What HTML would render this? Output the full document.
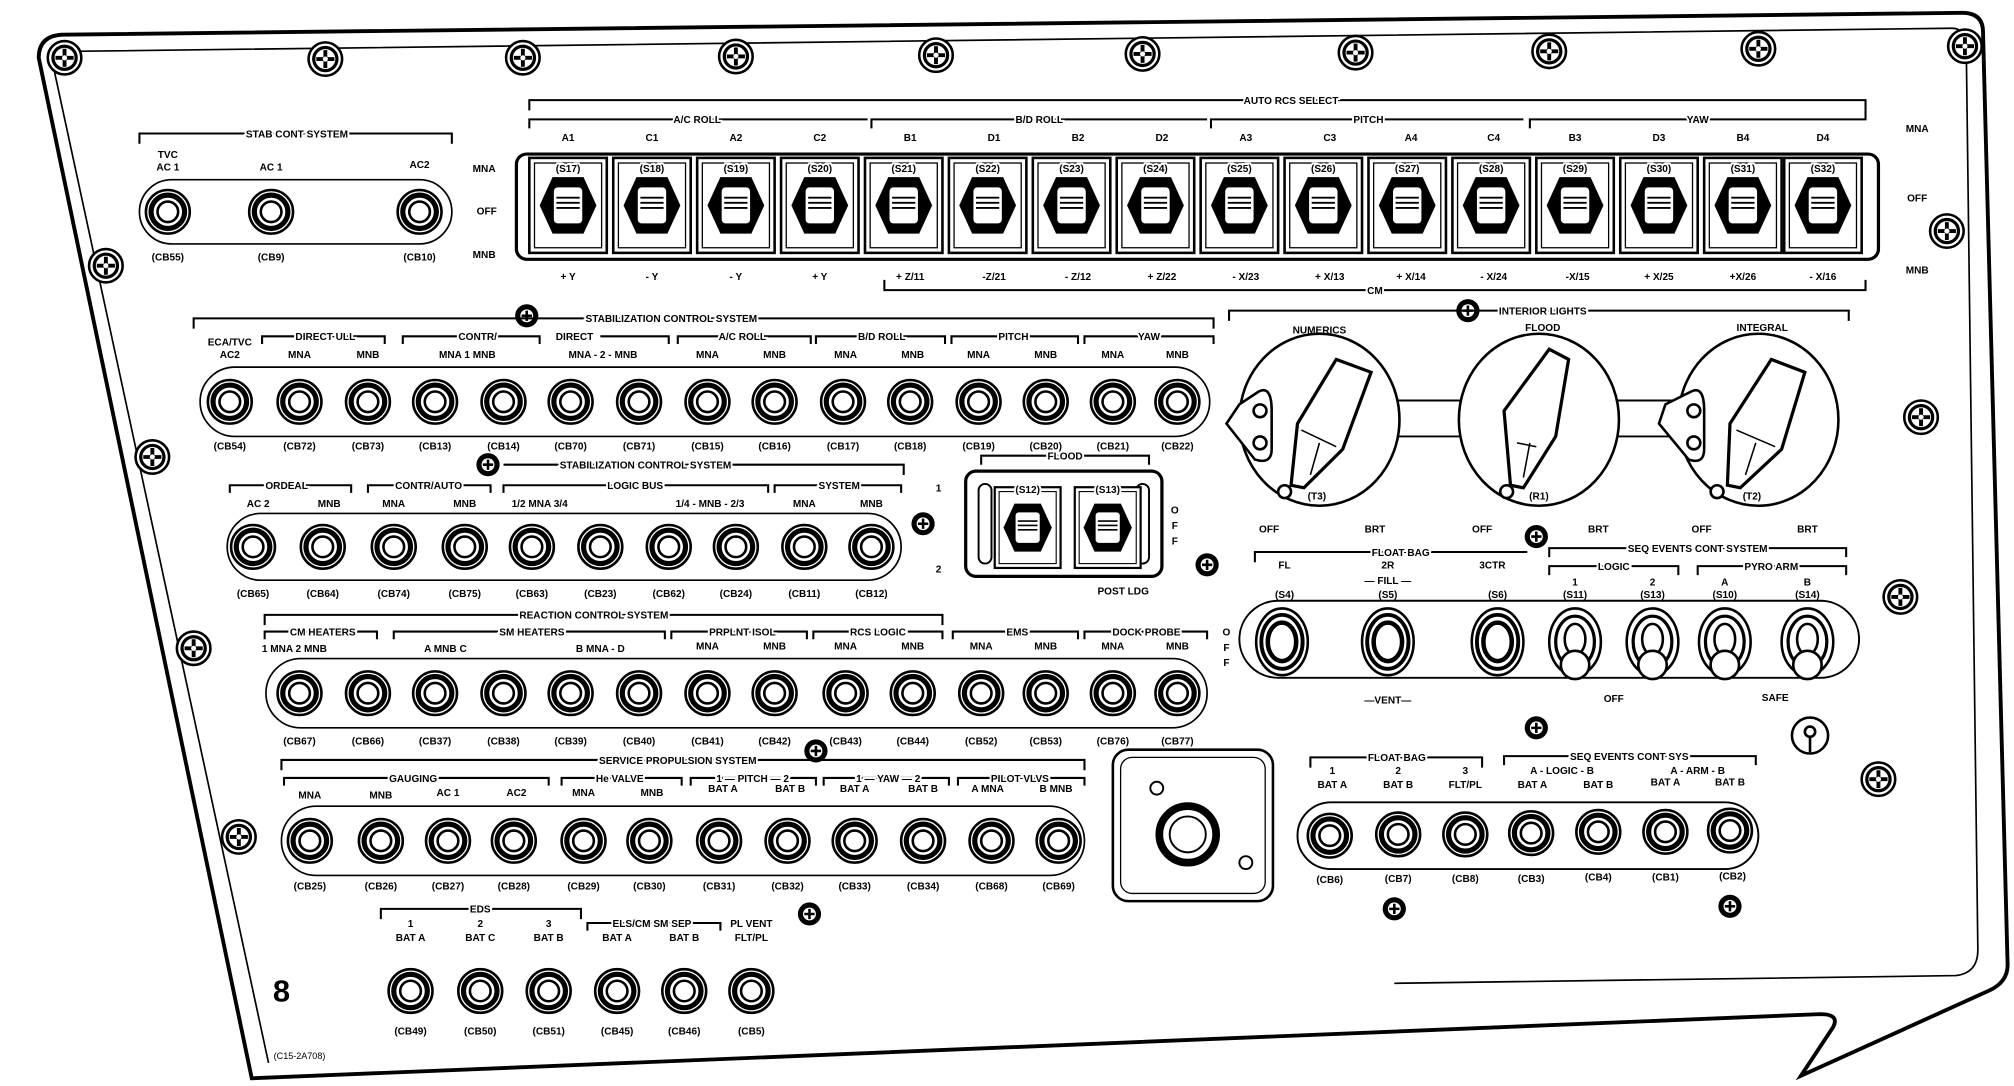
<!DOCTYPE html>
<html><head><meta charset="utf-8"><style>
html,body{margin:0;padding:0;background:#fff}
svg{display:block}
text{font-family:"Liberation Sans",sans-serif;font-weight:bold;font-size:7.8px;fill:#000;text-anchor:middle}
.h{stroke:#fff;stroke-width:3;paint-order:stroke}
.k{fill:none;stroke:#000;stroke-width:1.6}
</style></head><body>
<svg width="2014" height="1086" viewBox="0 0 1560 846" preserveAspectRatio="none">
<defs>
<g id="b"><circle r="17" fill="#fff" stroke="#000" stroke-width="2"/><circle r="13" fill="none" stroke="#000" stroke-width="4"/><circle r="8" fill="#fff" stroke="#000" stroke-width="2"/></g>
<g id="s"><circle r="13" fill="#fff" stroke="#000" stroke-width="2"/><circle r="9" fill="#fff" stroke="#000" stroke-width="2.5"/><path d="M0 -7V7M-7 0H7" stroke="#000" stroke-width="3"/><circle r="2" fill="#fff"/></g>
<g id="ss"><circle r="9" fill="#000"/><circle r="5" fill="#fff"/><path d="M0 -4V4M-4 0H4" stroke="#000" stroke-width="2"/></g>
<g id="r"><rect x="-30" y="-37" width="60" height="74" fill="#fff" stroke="#000" stroke-width="2"/><rect x="-26" y="-33" width="52" height="66" fill="none" stroke="#000" stroke-width="1"/><path d="M-12 -22H12L22 0L12 22H-12L-22 0Z" fill="#000"/><rect x="-12" y="-15" width="24" height="30" rx="4" fill="#fff" stroke="#000" stroke-width="2"/><path d="M-9 -6H9M-9 -2H9M-9 2H9" stroke="#000" stroke-width="1.5"/></g>
<g id="t"><ellipse rx="20" ry="26" fill="#fff" stroke="#000" stroke-width="2"/><ellipse rx="15" ry="20" fill="none" stroke="#000" stroke-width="2.5"/><ellipse cy="-2" rx="8" ry="12" fill="#fff" stroke="#000" stroke-width="2"/><circle cy="18" r="11" fill="#fff" stroke="#000" stroke-width="2"/></g>
<g id="p"><ellipse rx="20" ry="26" fill="#fff" stroke="#000" stroke-width="2"/><ellipse rx="16" ry="21" fill="none" stroke="#000" stroke-width="3"/><ellipse rx="11" ry="15" fill="#fff" stroke="#000" stroke-width="3.5"/></g>
</defs>

<path d="M30 45 Q30 28 48 27 L1520 10 Q1536 10 1536 25 L1555 750 Q1556 765 1540 772 L1395 838 L1420 800 Q1425 790 1410 790 L195 840 Z" fill="#fff" stroke="#000" stroke-width="3"/>
<path d="M42 55 Q42 40 56 40 L1512 22 Q1522 22 1523 35 L1532 740 Q1532 758 1515 760 L1080 766" fill="none" stroke="#000" stroke-width="1.3"/>
<path d="M42 55 L208 828" fill="none" stroke="#000" stroke-width="1.3"/>

<use href="#s" x="50" y="45"/><use href="#s" x="252" y="46"/><use href="#s" x="405" y="45"/><use href="#s" x="570" y="44"/><use href="#s" x="725" y="43"/><use href="#s" x="885" y="42"/><use href="#s" x="1050" y="41"/><use href="#s" x="1200" y="40"/><use href="#s" x="1362" y="38"/><use href="#s" x="1522" y="36"/>
<use href="#s" x="82" y="207"/><use href="#s" x="118" y="356"/><use href="#s" x="150" y="505"/><use href="#s" x="185" y="652"/>
<use href="#s" x="1508" y="180"/><use href="#s" x="1488" y="325"/><use href="#s" x="1472" y="465"/><use href="#s" x="1455" y="607"/>
<use href="#ss" x="408" y="246"/><use href="#ss" x="378" y="362"/><use href="#ss" x="715" y="408"/><use href="#ss" x="935" y="440"/><use href="#ss" x="632" y="585"/><use href="#ss" x="627" y="712"/><use href="#ss" x="1137" y="242"/><use href="#ss" x="1190" y="418"/><use href="#ss" x="1190" y="567"/><use href="#ss" x="1080" y="708"/><use href="#ss" x="1340" y="706"/>
<circle cx="1402" cy="573" r="14" fill="#fff" stroke="#000" stroke-width="2"/><circle cx="1402" cy="570" r="4" fill="none" stroke="#000" stroke-width="2"/><path d="M1402 574V586" stroke="#000" stroke-width="2"/>

<path class="k" d="M108 112V104H350V112"/><text class="h" x="230" y="107">STAB CONT SYSTEM</text>
<text x="130" y="123">TVC</text><text x="130" y="133">AC 1</text><text x="210" y="133">AC 1</text><text x="325" y="131">AC2</text>
<rect x="108" y="140" width="242" height="50" rx="25" fill="none" stroke="#000" stroke-width="1.3"/>
<use href="#b" x="130" y="165"/><use href="#b" x="210" y="165"/><use href="#b" x="325" y="165"/>
<text x="130" y="203">(CB55)</text><text x="210" y="203">(CB9)</text><text x="325" y="203">(CB10)</text>
<text x="375" y="134">MNA</text><text x="377" y="167">OFF</text><text x="375" y="201">MNB</text>
<text x="1485" y="103">MNA</text><text x="1485" y="157">OFF</text><text x="1485" y="213">MNB</text>

<path class="k" d="M410 86V78H1445V86"/><text class="h" x="1000" y="81">AUTO RCS SELECT</text>
<path class="k" d="M410 100V93H672"/><text class="h" x="540" y="96">A/C ROLL</text>
<path class="k" d="M675 100V93H935"/><text class="h" x="805" y="96">B/D ROLL</text>
<path class="k" d="M938 100V93H1180"/><text class="h" x="1060" y="96">PITCH</text>
<path class="k" d="M1185 100V93H1445V86"/><text class="h" x="1315" y="96">YAW</text>
<text x="440" y="110">A1</text><text x="505" y="110">C1</text><text x="570" y="110">A2</text><text x="635" y="110">C2</text><text x="705" y="110">B1</text><text x="770" y="110">D1</text><text x="835" y="110">B2</text><text x="900" y="110">D2</text><text x="965" y="110">A3</text><text x="1030" y="110">C3</text><text x="1093" y="110">A4</text><text x="1157" y="110">C4</text><text x="1220" y="110">B3</text><text x="1285" y="110">D3</text><text x="1350" y="110">B4</text><text x="1412" y="110">D4</text>
<rect x="400" y="120" width="1055" height="82" rx="8" fill="#fff" stroke="#000" stroke-width="2.5"/>
<use href="#r" x="440" y="160"/><use href="#r" x="505" y="160"/><use href="#r" x="570" y="160"/><use href="#r" x="635" y="160"/><use href="#r" x="700" y="160"/><use href="#r" x="765" y="160"/><use href="#r" x="830" y="160"/><use href="#r" x="895" y="160"/><use href="#r" x="960" y="160"/><use href="#r" x="1025" y="160"/><use href="#r" x="1090" y="160"/><use href="#r" x="1155" y="160"/><use href="#r" x="1220" y="160"/><use href="#r" x="1285" y="160"/><use href="#r" x="1350" y="160"/><use href="#r" x="1412" y="160"/>
<text class="h" x="440" y="134">(S17)</text><text class="h" x="505" y="134">(S18)</text><text class="h" x="570" y="134">(S19)</text><text class="h" x="635" y="134">(S20)</text><text class="h" x="700" y="134">(S21)</text><text class="h" x="765" y="134">(S22)</text><text class="h" x="830" y="134">(S23)</text><text class="h" x="895" y="134">(S24)</text><text class="h" x="960" y="134">(S25)</text><text class="h" x="1025" y="134">(S26)</text><text class="h" x="1090" y="134">(S27)</text><text class="h" x="1155" y="134">(S28)</text><text class="h" x="1220" y="134">(S29)</text><text class="h" x="1285" y="134">(S30)</text><text class="h" x="1350" y="134">(S31)</text><text class="h" x="1412" y="134">(S32)</text>
<text x="440" y="218">+ Y</text><text x="505" y="218">- Y</text><text x="570" y="218">- Y</text><text x="635" y="218">+ Y</text><text x="705" y="218">+ Z/11</text><text x="770" y="218">-Z/21</text><text x="835" y="218">- Z/12</text><text x="900" y="218">+ Z/22</text><text x="965" y="218">- X/23</text><text x="1030" y="218">+ X/13</text><text x="1093" y="218">+ X/14</text><text x="1157" y="218">- X/24</text><text x="1222" y="218">-X/15</text><text x="1285" y="218">+ X/25</text><text x="1350" y="218">+X/26</text><text x="1412" y="218">- X/16</text>
<path class="k" d="M685 218V226H1445V218"/><text class="h" x="1065" y="229">CM</text>

<path class="k" d="M150 256V248H940V256"/><text class="h" x="520" y="251">STABILIZATION CONTROL SYSTEM</text>
<text x="178" y="269">ECA/TVC</text><text x="178" y="279">AC2</text>
<path class="k" d="M203 268V262H298V268"/><text class="h" x="252" y="265">DIRECT ULL</text>
<text x="232" y="279">MNA</text><text x="285" y="279">MNB</text>
<path class="k" d="M312 268V262H418V268"/><text class="h" x="370" y="265">CONTR/</text>
<text x="362" y="279">MNA   1   MNB</text>
<text x="445" y="265">DIRECT</text><path class="k" d="M465 262H518V268"/>
<text x="467" y="279">MNA  - 2 -  MNB</text>
<path class="k" d="M525 268V262H628V268"/><text class="h" x="575" y="265">A/C ROLL</text>
<text x="548" y="279">MNA</text><text x="600" y="279">MNB</text>
<path class="k" d="M632 268V262H732V268"/><text class="h" x="683" y="265">B/D ROLL</text>
<text x="655" y="279">MNA</text><text x="707" y="279">MNB</text>
<path class="k" d="M737 268V262H835V268"/><text class="h" x="785" y="265">PITCH</text>
<text x="758" y="279">MNA</text><text x="810" y="279">MNB</text>
<path class="k" d="M840 268V262H940V268"/><text class="h" x="890" y="265">YAW</text>
<text x="862" y="279">MNA</text><text x="912" y="279">MNB</text>
<rect x="155" y="286" width="782" height="54" rx="27" fill="none" stroke="#000" stroke-width="1.3"/>
<use href="#b" x="178" y="313"/><use href="#b" x="232" y="313"/><use href="#b" x="285" y="313"/><use href="#b" x="337" y="313"/><use href="#b" x="390" y="313"/><use href="#b" x="442" y="313"/><use href="#b" x="495" y="313"/><use href="#b" x="548" y="313"/><use href="#b" x="600" y="313"/><use href="#b" x="653" y="313"/><use href="#b" x="705" y="313"/><use href="#b" x="758" y="313"/><use href="#b" x="810" y="313"/><use href="#b" x="862" y="313"/><use href="#b" x="912" y="313"/>
<text x="178" y="350">(CB54)</text><text x="232" y="350">(CB72)</text><text x="285" y="350">(CB73)</text><text x="337" y="350">(CB13)</text><text x="390" y="350">(CB14)</text><text x="442" y="350">(CB70)</text><text x="495" y="350">(CB71)</text><text x="548" y="350">(CB15)</text><text x="600" y="350">(CB16)</text><text x="653" y="350">(CB17)</text><text x="705" y="350">(CB18)</text><text x="758" y="350">(CB19)</text><text x="810" y="350">(CB20)</text><text x="862" y="350">(CB21)</text><text x="912" y="350">(CB22)</text>

<path class="k" d="M390 362H700V370"/><text class="h" x="500" y="365">STABILIZATION CONTROL SYSTEM</text>
<path class="k" d="M178 384V378H272V384"/><text class="h" x="222" y="381">ORDEAL</text>
<text x="200" y="395">AC 2</text><text x="255" y="395">MNB</text>
<path class="k" d="M285 384V378H380V384"/><text class="h" x="332" y="381">CONTR/AUTO</text>
<text x="305" y="395">MNA</text><text x="360" y="395">MNB</text>
<path class="k" d="M390 384V378H595V384"/><text class="h" x="492" y="381">LOGIC BUS</text>
<text x="418" y="395">1/2   MNA   3/4</text><text x="550" y="395">1/4 - MNB - 2/3</text>
<path class="k" d="M600 384V378H698V384"/><text class="h" x="650" y="381">SYSTEM</text>
<text x="623" y="395">MNA</text><text x="675" y="395">MNB</text>
<rect x="176" y="400" width="522" height="52" rx="26" fill="none" stroke="#000" stroke-width="1.3"/>
<use href="#b" x="196" y="426"/><use href="#b" x="250" y="426"/><use href="#b" x="305" y="426"/><use href="#b" x="360" y="426"/><use href="#b" x="412" y="426"/><use href="#b" x="465" y="426"/><use href="#b" x="518" y="426"/><use href="#b" x="570" y="426"/><use href="#b" x="623" y="426"/><use href="#b" x="675" y="426"/>
<text x="196" y="465">(CB65)</text><text x="250" y="465">(CB64)</text><text x="305" y="465">(CB74)</text><text x="360" y="465">(CB75)</text><text x="412" y="465">(CB63)</text><text x="465" y="465">(CB23)</text><text x="518" y="465">(CB62)</text><text x="570" y="465">(CB24)</text><text x="623" y="465">(CB11)</text><text x="675" y="465">(CB12)</text>
<text x="727" y="383">1</text><text x="727" y="446">2</text>

<path class="k" d="M760 362V355H890V362"/><text class="h" x="825" y="358">FLOOD</text>
<text x="795" y="372">DIM</text><text x="858" y="372">FIXED</text>
<rect x="748" y="367" width="152" height="82" rx="8" fill="#fff" stroke="#000" stroke-width="2.5"/>
<rect x="758" y="377" width="10" height="62" rx="5" fill="none" stroke="#000" stroke-width="1.5"/><rect x="880" y="377" width="10" height="62" rx="5" fill="none" stroke="#000" stroke-width="1.5"/>
<use href="#r" x="796" y="411" transform="translate(796 411) scale(0.85) translate(-796 -411)"/>
<use href="#r" x="858" y="411" transform="translate(858 411) scale(0.85) translate(-858 -411)"/>
<text class="h" x="796" y="384">(S12)</text><text class="h" x="858" y="384">(S13)</text>
<text x="910" y="400">O</text><text x="910" y="412">F</text><text x="910" y="424">F</text>
<text x="870" y="463">POST LDG</text>

<path class="k" d="M205 487V479H730V487"/><text class="h" x="460" y="482">REACTION CONTROL SYSTEM</text>
<path class="k" d="M205 498V492H292V498"/><text class="h" x="250" y="495">CM HEATERS</text>
<text x="228" y="508">1  MNA     2  MNB</text>
<path class="k" d="M305 498V492H515V498"/><text class="h" x="412" y="495">SM HEATERS</text>
<text x="345" y="508">A    MNB   C</text><text x="465" y="508">B    MNA - D</text>
<path class="k" d="M520 498V492H625V498"/><text class="h" x="575" y="495">PRPLNT ISOL</text>
<text x="548" y="506">MNA</text><text x="600" y="506">MNB</text>
<path class="k" d="M630 498V492H730V498"/><text class="h" x="680" y="495">RCS LOGIC</text>
<text x="655" y="506">MNA</text><text x="707" y="506">MNB</text>
<path class="k" d="M738 498V492H835V498"/><text class="h" x="788" y="495">EMS</text>
<text x="760" y="506">MNA</text><text x="810" y="506">MNB</text>
<path class="k" d="M840 498V492H935V498"/><text class="h" x="888" y="495">DOCK PROBE</text>
<text x="862" y="506">MNA</text><text x="912" y="506">MNB</text>
<rect x="206" y="513" width="729" height="54" rx="27" fill="none" stroke="#000" stroke-width="1.3"/>
<use href="#b" x="232" y="540"/><use href="#b" x="285" y="540"/><use href="#b" x="337" y="540"/><use href="#b" x="390" y="540"/><use href="#b" x="442" y="540"/><use href="#b" x="495" y="540"/><use href="#b" x="548" y="540"/><use href="#b" x="600" y="540"/><use href="#b" x="655" y="540"/><use href="#b" x="707" y="540"/><use href="#b" x="760" y="540"/><use href="#b" x="810" y="540"/><use href="#b" x="862" y="540"/><use href="#b" x="912" y="540"/>
<text x="232" y="580">(CB67)</text><text x="285" y="580">(CB66)</text><text x="337" y="580">(CB37)</text><text x="390" y="580">(CB38)</text><text x="442" y="580">(CB39)</text><text x="495" y="580">(CB40)</text><text x="548" y="580">(CB41)</text><text x="600" y="580">(CB42)</text><text x="655" y="580">(CB43)</text><text x="707" y="580">(CB44)</text><text x="760" y="580">(CB52)</text><text x="810" y="580">(CB53)</text><text x="862" y="580">(CB76)</text><text x="912" y="580">(CB77)</text>
<text x="950" y="495">O</text><text x="950" y="507">F</text><text x="950" y="519">F</text>

<path class="k" d="M218 600V592H840V600"/><text class="h" x="525" y="595">SERVICE PROPULSION SYSTEM</text>
<path class="k" d="M220 612V606H425V612"/><text class="h" x="320" y="609">GAUGING</text>
<text x="240" y="622">MNA</text><text x="295" y="622">MNB</text><text x="347" y="620">AC 1</text><text x="400" y="620">AC2</text>
<path class="k" d="M435 612V606H528V612"/><text class="h" x="480" y="609">He VALVE</text>
<text x="452" y="620">MNA</text><text x="505" y="620">MNB</text>
<path class="k" d="M535 612V606H632V612"/><text class="h" x="583" y="609">1 — PITCH — 2</text>
<text x="560" y="617">BAT A</text><text x="612" y="617">BAT B</text>
<path class="k" d="M638 612V606H735V612"/><text class="h" x="688" y="609">1 — YAW — 2</text>
<text x="662" y="617">BAT A</text><text x="715" y="617">BAT B</text>
<path class="k" d="M742 612V606H840V612"/><text class="h" x="790" y="609">PILOT VLVS</text>
<text x="765" y="617">A MNA</text><text x="818" y="617">B MNB</text>
<rect x="218" y="628" width="622" height="54" rx="27" fill="none" stroke="#000" stroke-width="1.3"/>
<use href="#b" x="240" y="655"/><use href="#b" x="295" y="655"/><use href="#b" x="347" y="655"/><use href="#b" x="398" y="655"/><use href="#b" x="452" y="655"/><use href="#b" x="503" y="655"/><use href="#b" x="557" y="655"/><use href="#b" x="610" y="655"/><use href="#b" x="662" y="655"/><use href="#b" x="715" y="655"/><use href="#b" x="768" y="655"/><use href="#b" x="820" y="655"/>
<text x="240" y="693">(CB25)</text><text x="295" y="693">(CB26)</text><text x="347" y="693">(CB27)</text><text x="398" y="693">(CB28)</text><text x="452" y="693">(CB29)</text><text x="503" y="693">(CB30)</text><text x="557" y="693">(CB31)</text><text x="610" y="693">(CB32)</text><text x="662" y="693">(CB33)</text><text x="715" y="693">(CB34)</text><text x="768" y="693">(CB68)</text><text x="820" y="693">(CB69)</text>

<path class="k" d="M295 716V708H450V716"/><text class="h" x="372" y="711">EDS</text>
<text x="318" y="722">1</text><text x="372" y="722">2</text><text x="425" y="722">3</text>
<text x="318" y="733">BAT A</text><text x="372" y="733">BAT C</text><text x="425" y="733">BAT B</text>
<path class="k" d="M455 725V719H558V725"/><text class="h" x="505" y="722">ELS/CM SM SEP</text>
<text x="478" y="733">BAT A</text><text x="530" y="733">BAT B</text>
<text x="582" y="722">PL VENT</text><text x="582" y="733">FLT/PL</text>
<use href="#b" x="318" y="772"/><use href="#b" x="372" y="772"/><use href="#b" x="425" y="772"/><use href="#b" x="478" y="772"/><use href="#b" x="530" y="772"/><use href="#b" x="582" y="772"/>
<text x="318" y="806">(CB49)</text><text x="372" y="806">(CB50)</text><text x="425" y="806">(CB51)</text><text x="478" y="806">(CB45)</text><text x="530" y="806">(CB46)</text><text x="582" y="806">(CB5)</text>
<text x="218" y="780" style="font-family:'Liberation Sans',sans-serif;font-weight:bold;font-size:24px">8</text>
<text x="232" y="825" style="font-weight:normal;font-size:7px">(C15-2A708)</text>

<rect x="862" y="584" width="124" height="118" rx="12" fill="#fff" stroke="#000" stroke-width="2"/>
<rect x="868" y="590" width="112" height="106" rx="9" fill="none" stroke="#000" stroke-width="1"/>
<circle cx="920" cy="650" r="22" fill="#fff" stroke="#000" stroke-width="6"/><circle cx="920" cy="650" r="14" fill="none" stroke="#000" stroke-width="1.5"/>
<circle cx="896" cy="614" r="5" fill="none" stroke="#000" stroke-width="1.5"/><circle cx="965" cy="672" r="5" fill="none" stroke="#000" stroke-width="1.5"/>

<path class="k" d="M952 250V242H1432V250"/><text class="h" x="1195" y="245">INTERIOR LIGHTS</text>
<text x="1022" y="260">NUMERICS</text><text x="1195" y="258">FLOOD</text><text x="1365" y="258">INTEGRAL</text>
<path d="M1070 312H1145M1070 340H1145M1238 312H1310M1238 340H1310" stroke="#000" stroke-width="1.5"/>
<ellipse cx="1022" cy="327" rx="62" ry="67" fill="#fff" stroke="#000" stroke-width="2"/>
<ellipse cx="1192" cy="327" rx="62" ry="67" fill="#fff" stroke="#000" stroke-width="2"/>
<ellipse cx="1362" cy="327" rx="62" ry="67" fill="#fff" stroke="#000" stroke-width="2"/>
<g fill="#fff" stroke="#000" stroke-width="2">
<path d="M960 315L975 305Q985 300 985 320V350Q985 362 972 358L950 330Z"/><circle cx="976" cy="320" r="5"/><circle cx="976" cy="345" r="5"/>
<path d="M1290 315L1310 305Q1320 300 1320 320V350Q1320 362 1308 358L1285 330Z"/><circle cx="1312" cy="320" r="5"/><circle cx="1312" cy="345" r="5"/>
<path d="M1035 280L1062 290L1040 350L1010 380L1000 378L1005 330Z" stroke-width="2.5"/>
<path d="M1200 272L1215 280L1205 340L1180 380L1170 378L1165 320Z" stroke-width="2.5"/>
<path d="M1372 280L1398 290L1380 350L1348 380L1338 378L1340 330Z" stroke-width="2.5"/>
<path d="M1008 335L1035 348M1015 370L1022 345M1175 345L1190 348M1180 372L1185 345M1345 335L1375 348M1352 370L1360 345" stroke-width="1.2"/>
<circle cx="995" cy="383" r="5"/><circle cx="1167" cy="383" r="5"/><circle cx="1330" cy="383" r="5"/>
</g>
<text x="1020" y="389">(T3)</text><text x="1192" y="389">(R1)</text><text x="1357" y="389">(T2)</text>
<text x="983" y="415">OFF</text><text x="1065" y="415">BRT</text><text x="1148" y="415">OFF</text><text x="1238" y="415">BRT</text><text x="1318" y="415">OFF</text><text x="1400" y="415">BRT</text>

<path class="k" d="M972 438V430H1183"/><text class="h" x="1085" y="433">FLOAT BAG</text>
<text x="995" y="443">FL</text><text x="1075" y="443">2R</text><text x="1156" y="443">3CTR</text>
<text x="1075" y="455">— FILL —</text>
<path class="k" d="M1200 434V427H1430V434"/><text class="h" x="1315" y="430">SEQ EVENTS CONT SYSTEM</text>
<path class="k" d="M1200 448V441H1300V448"/><text class="h" x="1250" y="444">LOGIC</text>
<path class="k" d="M1315 448V441H1430V448"/><text class="h" x="1372" y="444">PYRO ARM</text>
<text x="1220" y="456">1</text><text x="1280" y="456">2</text><text x="1336" y="456">A</text><text x="1400" y="456">B</text>
<text x="995" y="466">(S4)</text><text x="1075" y="466">(S5)</text><text x="1160" y="466">(S6)</text><text x="1220" y="466">(S11)</text><text x="1280" y="466">(S13)</text><text x="1336" y="466">(S10)</text><text x="1400" y="466">(S14)</text>
<rect x="960" y="468" width="480" height="60" rx="30" fill="none" stroke="#000" stroke-width="1.5"/>
<use href="#p" x="993" y="500"/><use href="#p" x="1075" y="500"/><use href="#p" x="1160" y="500"/>
<use href="#t" x="1220" y="500"/><use href="#t" x="1280" y="500"/><use href="#t" x="1336" y="500"/><use href="#t" x="1400" y="500"/>
<text x="1075" y="548">—VENT—</text><text x="1250" y="547">OFF</text><text x="1375" y="546">SAFE</text>

<path class="k" d="M1015 598V590H1148V598"/><text class="h" x="1082" y="593">FLOAT BAG</text>
<text x="1032" y="603">1</text><text x="1083" y="603">2</text><text x="1135" y="603">3</text>
<text x="1032" y="614">BAT A</text><text x="1083" y="614">BAT B</text><text x="1135" y="614">FLT/PL</text>
<path class="k" d="M1165 596V589H1360V596"/><text class="h" x="1262" y="592">SEQ EVENTS CONT SYS</text>
<text x="1210" y="603">A - LOGIC - B</text><text x="1315" y="603">A - ARM - B</text>
<text x="1187" y="614">BAT A</text><text x="1238" y="614">BAT B</text><text x="1290" y="612">BAT A</text><text x="1340" y="612">BAT B</text>
<rect x="1005" y="625" width="357" height="52" rx="26" fill="none" stroke="#000" stroke-width="1.5"/>
<use href="#b" x="1030" y="651"/><use href="#b" x="1083" y="650"/><use href="#b" x="1135" y="650"/><use href="#b" x="1186" y="649"/><use href="#b" x="1238" y="648"/><use href="#b" x="1290" y="648"/><use href="#b" x="1340" y="647"/>
<text x="1030" y="688">(CB6)</text><text x="1083" y="687">(CB7)</text><text x="1135" y="687">(CB8)</text><text x="1186" y="687">(CB3)</text><text x="1238" y="686">(CB4)</text><text x="1290" y="686">(CB1)</text><text x="1342" y="685">(CB2)</text>
</svg>
</body></html>
